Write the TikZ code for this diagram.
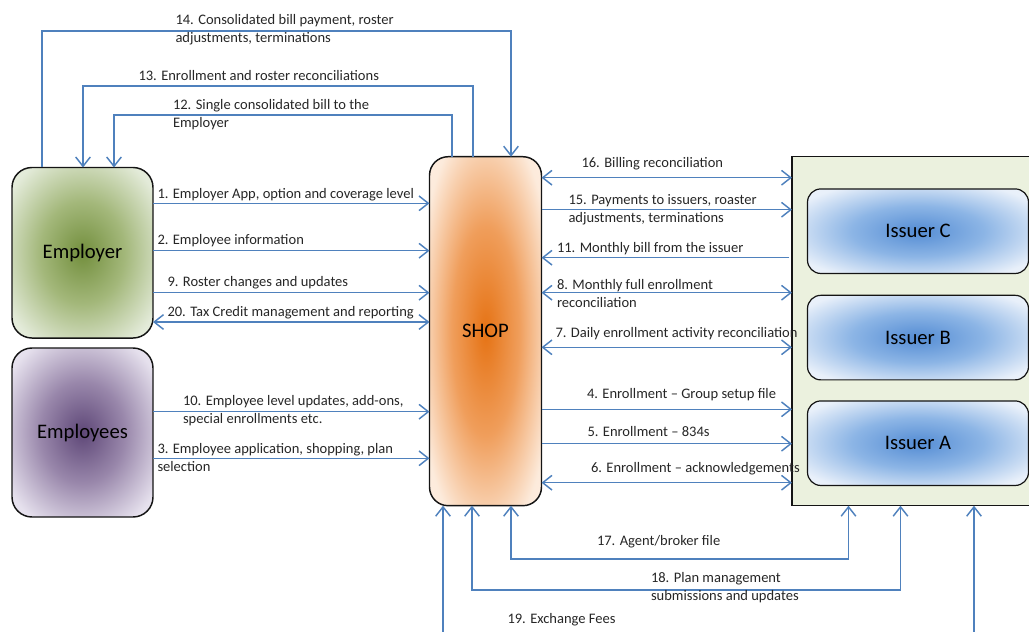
\documentclass[tikz,border=0pt]{standalone}
\usepackage{fontspec}
\setmainfont{Carlito}
\usetikzlibrary{arrows.meta}
\definecolor{flowblue}{RGB}{79,129,189}
\definecolor{boxedge}{RGB}{20,20,20}
\definecolor{issuerbg}{RGB}{235,241,222}
\pgfdeclareradialshading{employershade}{\pgfpointorigin}{rgb(0bp)=(0.45,0.56,0.24); rgb(15bp)=(0.64,0.72,0.48); rgb(31bp)=(0.89,0.92,0.85); rgb(50bp)=(0.96,0.97,0.94)}
\pgfdeclareradialshading{employeeshade}{\pgfpointorigin}{rgb(0bp)=(0.37,0.28,0.47); rgb(15bp)=(0.60,0.53,0.67); rgb(31bp)=(0.90,0.88,0.93); rgb(50bp)=(0.97,0.96,0.98)}
\pgfdeclareradialshading{shopshade}{\pgfpointorigin}{rgb(0bp)=(0.90,0.45,0.08); rgb(15bp)=(0.94,0.62,0.36); rgb(31bp)=(0.99,0.92,0.86); rgb(50bp)=(1,0.97,0.95)}
\pgfdeclareradialshading{issuershade}{\pgfpointorigin}{rgb(0bp)=(0.33,0.55,0.83); rgb(15bp)=(0.55,0.71,0.90); rgb(31bp)=(0.91,0.94,0.98); rgb(50bp)=(0.97,0.98,1)}
\tikzset{every picture/.style={line width=0.75pt}}

\begin{document}
\begin{tikzpicture}[x=0.75pt,y=0.75pt,yscale=-1,xscale=1,
	flow/.style={draw=flowblue, line width=1.1pt, -{Straight Barb[length=7pt,width=11pt]}},
	both/.style={flow, {Straight Barb[length=7pt,width=11pt]}-{Straight Barb[length=7pt,width=11pt]}},
	lbl/.style={anchor=west, inner sep=0pt, align=left, text=black!85, font=\fontsize{10.9}{13.5}\selectfont},
	party/.style={draw=boxedge, line width=1.1pt, rounded corners=15pt, inner sep=0pt, outer sep=0pt, font=\fontsize{15.5}{18}\selectfont},
	issuer/.style={party, line width=0.9pt, rounded corners=10pt, minimum width=165.75pt, minimum height=63.4pt, shading=issuershade}]
	\useasboundingbox (0,0) rectangle (1029,632);
	
	%Shape: Rounded Rect -- Employer
	\node [party, minimum width=105.75pt, minimum height=127.9pt, shading=employershade] (employer) at (82.5,252.75) {Employer};
	%Shape: Rounded Rect -- Employees
	\node [party, minimum width=105.75pt, minimum height=126.75pt, shading=employeeshade] (employees) at (82.5,432.5) {Employees};
	%Shape: Rounded Rect -- SHOP
	\node [party, rounded corners=14pt, minimum width=84pt, minimum height=261.75pt, shading=shopshade] (shop) at (485.5,331.2) {SHOP};
	%Shape: Rectangle -- issuers frame
	\node [draw=boxedge, line width=1.1pt, fill=issuerbg, inner sep=0pt, outer sep=0pt, minimum width=186pt, minimum height=261.75pt] (issuers) at (916,331.2) {};
	%Shape: Rounded Rect -- issuers
	\node [issuer] (issuerC) at (918,231.2) {Issuer C};
	\node [issuer] (issuerB) at (918,337.6) {Issuer B};
	\node [issuer] (issuerA) at (918,443.2) {Issuer A};
	
	%Flows over the top
	\draw [flow] (employer.north -| 42,0) |- (511,31) -- (shop.north -| 511,0) ;
	\draw [flow] (shop.north -| 473,0) |- (83,86) -- (employer.north -| 83,0) ;
	\draw [flow] (shop.north -| 452,0) |- (114,115) -- (employer.north -| 114,0) ;
	
	%Flows Employer / Employees -- SHOP
	\draw [flow] (employer.east |- 0,203.3) -- (shop.west |- 0,203.3) ;
	\draw [flow] (employer.east |- 0,250.7) -- (shop.west |- 0,250.7) ;
	\draw [flow] (employer.east |- 0,292.7) -- (shop.west |- 0,292.7) ;
	\draw [both] (employer.east |- 0,322) -- (shop.west |- 0,322) ;
	\draw [flow] (employees.east |- 0,411.7) -- (shop.west |- 0,411.7) ;
	\draw [flow] (employees.east |- 0,458.3) -- (shop.west |- 0,458.3) ;
	
	%Flows SHOP -- issuers
	\draw [both] (shop.east |- 0,177.7) -- (issuers.west |- 0,177.7) ;
	\draw [flow] (shop.east |- 0,209.7) -- (issuers.west |- 0,209.7) ;
	\draw [flow] ([xshift=-2pt]issuers.west |- 0,257.7) -- (shop.east |- 0,257.7) ;
	\draw [both] (shop.east |- 0,292.7) -- (issuers.west |- 0,292.7) ;
	\draw [both] (shop.east |- 0,347.3) -- (issuers.west |- 0,347.3) ;
	\draw [flow] (shop.east |- 0,409.3) -- (issuers.west |- 0,409.3) ;
	\draw [flow] (shop.east |- 0,443.7) -- (issuers.west |- 0,443.7) ;
	\draw [both] (shop.east |- 0,482.7) -- (issuers.west |- 0,482.7) ;
	
	%Flows under the bottom
	\draw [both] (shop.south -| 511,0) |- (848.5,559) -- (issuers.south -| 848.5,0) ;
	\draw [both] (shop.south -| 472,0) |- (900.5,590) -- (issuers.south -| 900.5,0) ;
	\draw [both] (shop.south -| 443,0) -- (443,660) -| (issuers.south -| 974,0) ;
	
	% Text Node
	\draw (175,29.5) node [lbl] (l14) {14. Consolidated bill payment, roster\\adjustments, terminations};
	% Text Node
	\draw (138,76) node [lbl] (l13) {13. Enrollment and roster reconciliations};
	% Text Node
	\draw (172.5,114.5) node [lbl] (l12) {12. Single consolidated bill to the\\Employer};
	% Text Node
	\draw (157,194.3) node [lbl] (l1) {1. Employer App, option and coverage level};
	% Text Node
	\draw (157,241) node [lbl] (l2) {2. Employee information};
	% Text Node
	\draw (167,282.7) node [lbl] (l9) {9. Roster changes and updates};
	% Text Node
	\draw (167,312.7) node [lbl] (l20) {20. Tax Credit management and reporting};
	% Text Node
	\draw (182.5,411) node [lbl] (l10) {10. Employee level updates, add-ons,\\special enrollments etc.};
	% Text Node
	\draw (157,458) node [lbl] (l3) {3. Employee application, shopping, plan\\selection};
	% Text Node
	\draw (581,164) node [lbl] (l16) {16. Billing reconciliation};
	% Text Node
	\draw (568,209.5) node [lbl] (l15) {15. Payments to issuers, roaster\\adjustments, terminations};
	% Text Node
	\draw (556.5,249) node [lbl] (l11) {11. Monthly bill from the issuer};
	% Text Node
	\draw (556.5,294) node [lbl] (l8) {8. Monthly full enrollment\\reconciliation};
	% Text Node
	\draw (555,334) node [lbl] (l7) {7. Daily enrollment activity reconciliation};
	% Text Node
	\draw (586.5,395) node [lbl] (l4) {4. Enrollment -- Group setup file};
	% Text Node
	\draw (587,431.7) node [lbl] (l5) {5. Enrollment -- 834s};
	% Text Node
	\draw (590.5,469) node [lbl] (l6) {6. Enrollment -- acknowledgements};
	% Text Node
	\draw (596.5,541.7) node [lbl] (l17) {17. Agent/broker file};
	% Text Node
	\draw (650.5,588) node [lbl] (l18) {18. Plan management\\submissions and updates};
	% Text Node
	\draw (507,620) node [lbl] (l19) {19. Exchange Fees};
	
\end{tikzpicture}
\end{document}
